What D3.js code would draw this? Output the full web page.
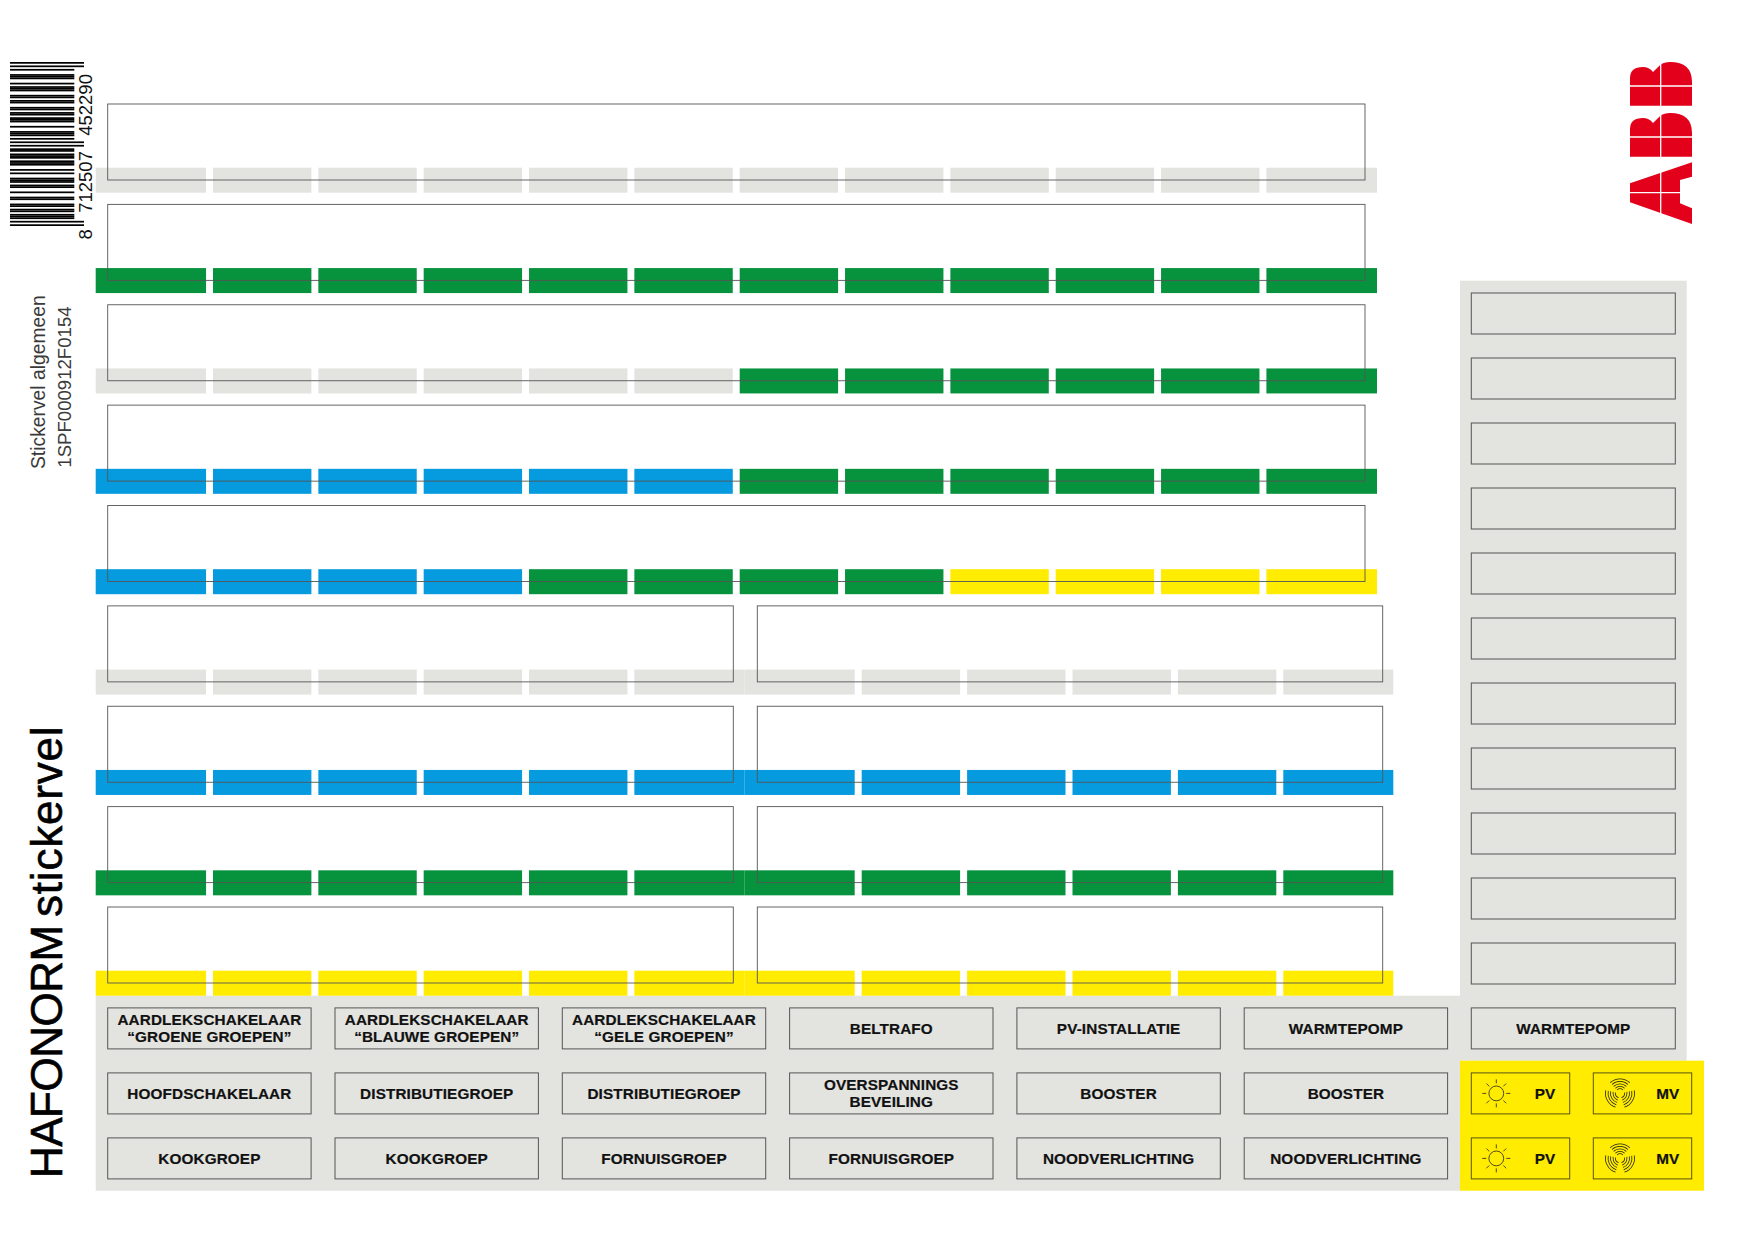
<!DOCTYPE html>
<html>
<head>
<meta charset="utf-8">
<title>HAFONORM stickervel</title>
<script src="https://cdn.jsdelivr.net/npm/d3@7"></script>
<style>
  html, body { margin: 0; padding: 0; background: #fff; }
  svg { display: block; }
  text { font-family: "Liberation Sans", Arial, sans-serif; }
</style>
</head>
<body>
<svg></svg>
<script>
// strip rows, top to bottom, as [colour name, number of cells]
let wideRows = [
  [['grey', 12]],
  [['green', 12]],
  [['grey', 6], ['green', 6]],
  [['blue', 6], ['green', 6]],
  [['blue', 4], ['green', 4], ['yellow', 4]]
];
let splitRows = ['grey', 'blue', 'green', 'yellow'];

// label boxes of the bottom block, row by row
let labelRows = [
  ['AARDLEKSCHAKELAAR\n“GROENE GROEPEN”', 'AARDLEKSCHAKELAAR\n“BLAUWE GROEPEN”', 'AARDLEKSCHAKELAAR\n“GELE GROEPEN”', 'BELTRAFO', 'PV-INSTALLATIE', 'WARMTEPOMP', 'WARMTEPOMP'],
  ['HOOFDSCHAKELAAR', 'DISTRIBUTIEGROEP', 'DISTRIBUTIEGROEP', 'OVERSPANNINGS\nBEVEILING', 'BOOSTER', 'BOOSTER'],
  ['KOOKGROEP', 'KOOKGROEP', 'FORNUISGROEP', 'FORNUISGROEP', 'NOODVERLICHTING', 'NOODVERLICHTING']
];
let sideBoxes = d3.range(11);
let yellowLabels = [['PV', 'MV'], ['PV', 'MV']];

let barcodeDigits = '8712507452290';
let eanLeft = ['0001101', '0011001', '0010011', '0111101', '0100011', '0110001', '0101111', '0111011', '0110111', '0001011'];
let eanParity8 = 'LGLGGL';

let colours = {
  grey: '#e3e4e0',
  green: '#07933e',
  blue: '#069adf',
  yellow: '#ffec00',
  red: '#e2001a',
  line: '#555'
};

let config = { svg: { width: 1754, height: 1240 } };

let svg = d3.select('svg')
  .attr('width', config.svg.width)
  .attr('height', config.svg.height)
  .attr('viewBox', `0 0 ${config.svg.width} ${config.svg.height}`);

// scales
let rowY = d3.scaleLinear().domain([0, 8]).range([167.7, 970.7]);
let cellX = d3.scaleLinear().domain([1, 11]).range([213, 1266.4]);
let splitCellX = d3.scaleLinear().domain([6, 11]).range([756.3, 1283.3]);
let labelX = d3.scaleLinear().domain([0, 5]).range([107.7, 1244.2]);
let labelY = d3.scaleLinear().domain([0, 2]).range([1007.9, 1137.9]);
let sideY = d3.scaleLinear().domain([0, 10]).range([293, 943]);
let barY = d3.scaleLinear().domain([0, 95]).range([226, 62]);

let stripH = 25;
let cellW = 98.4;
let boxH = 41;
let labelW = 203.4;

// grey and yellow panels go below the strips
let panels = svg.append('g').attr('id', 'panels');
panels.append('rect').attr('x', 95.7).attr('y', 995.7).attr('width', 1364.3).attr('height', 195).attr('fill', colours.grey);
panels.append('rect').attr('x', 1460).attr('y', 280.7).attr('width', 226.7).attr('height', 780).attr('fill', colours.grey);
panels.append('rect').attr('x', 1460).attr('y', 1060.7).attr('width', 244).attr('height', 130).attr('fill', colours.yellow);

// flatten rows into single cells
let cells = [];
wideRows.forEach((row, r) => {
  let i = 0;
  row.forEach(([colour, count]) => {
    d3.range(count).forEach(() => {
      let x0 = i === 0 ? 95.7 : cellX(i);
      let x1 = i === 11 ? 1377 : cellX(i) + cellW;
      cells.push({ r, colour, x0, x1 });
      i++;
    });
  });
});
splitRows.forEach((colour, k) => {
  let r = k + wideRows.length;
  d3.range(12).forEach(i => {
    let x0, x1;
    if (i < 6) {
      x0 = i === 0 ? 95.7 : cellX(i);
      x1 = i === 5 ? 744.3 : cellX(i) + cellW;
    } else {
      x0 = i === 6 ? 744.3 : splitCellX(i);
      x1 = i === 11 ? 1393.3 : splitCellX(i) + cellW;
    }
    cells.push({ r, colour, x0, x1 });
  });
});

svg.append('g').attr('id', 'strips')
  .selectAll('rect')
  .data(cells)
  .join('rect')
  .attr('x', d => d.x0)
  .attr('y', d => rowY(d.r))
  .attr('width', d => d.x1 - d.x0)
  .attr('height', stripH)
  .attr('fill', d => colours[d.colour]);

// outlines over the strips
let outlines = [];
wideRows.forEach((row, r) => outlines.push({ r, x0: 107.7, x1: 1365 }));
splitRows.forEach((c, k) => {
  outlines.push({ r: k + wideRows.length, x0: 107.7, x1: 733.3 });
  outlines.push({ r: k + wideRows.length, x0: 757.3, x1: 1382.7 });
});

svg.append('g').attr('id', 'outlines')
  .selectAll('rect')
  .data(outlines)
  .join('rect')
  .attr('x', d => d.x0)
  .attr('y', d => rowY(d.r) - 63.7)
  .attr('width', d => d.x1 - d.x0)
  .attr('height', 76)
  .attr('fill', 'none')
  .attr('stroke', colours.line)
  .attr('stroke-width', 0.9);

// empty boxes in the right column
svg.append('g').attr('id', 'side-boxes')
  .selectAll('rect')
  .data(sideBoxes)
  .join('rect')
  .attr('x', 1471.3)
  .attr('y', d => sideY(d))
  .attr('width', 204)
  .attr('height', boxH)
  .attr('fill', 'none')
  .attr('stroke', colours.line)
  .attr('stroke-width', 1);

// labelled boxes
let labelData = [];
labelRows.forEach((row, r) => row.forEach((text, c) => {
  labelData.push({ r, c, text, x: c === 6 ? 1471.3 : labelX(c), w: c === 6 ? 204 : labelW });
}));

let labels = svg.append('g').attr('id', 'labels')
  .selectAll('g')
  .data(labelData)
  .join('g')
  .attr('transform', d => `translate(${d.x},${labelY(d.r)})`);

labels.append('rect')
  .attr('width', d => d.w)
  .attr('height', boxH)
  .attr('fill', 'none')
  .attr('stroke', colours.line)
  .attr('stroke-width', 1);

labels.each(function (d) {
  let lines = d.text.split('\n');
  let top = boxH / 2 + 5.5 - (lines.length - 1) * 8.5;
  d3.select(this).selectAll('text')
    .data(lines)
    .join('text')
    .attr('x', d.w / 2)
    .attr('y', (t, i) => top + i * 17)
    .attr('text-anchor', 'middle')
    .attr('font-size', 15.3)
    .attr('font-weight', 700)
    .attr('letter-spacing', 0.12)
    .attr('fill', '#111')
    .attr('stroke', '#111')
    .attr('stroke-width', 0.2)
    .text(t => t);
});

// yellow boxes with icon
let yellowX = d3.scaleLinear().domain([0, 1]).range([1471.3, 1593.3]);
let yellowData = [];
yellowLabels.forEach((row, r) => row.forEach((text, c) => yellowData.push({ r, c, text })));

let yellow = svg.append('g').attr('id', 'yellow-boxes')
  .selectAll('g')
  .data(yellowData)
  .join('g')
  .attr('transform', d => `translate(${yellowX(d.c)},${labelY(d.r + 1)})`);

yellow.append('rect')
  .attr('width', 98.4)
  .attr('height', boxH)
  .attr('fill', 'none')
  .attr('stroke', '#5a5410')
  .attr('stroke-width', 1);

yellow.append('text')
  .attr('x', d => d.c === 0 ? 73.7 : 74.5)
  .attr('y', boxH / 2 + 5.5)
  .attr('text-anchor', 'middle')
  .attr('font-size', 15.3)
  .attr('font-weight', 700)
  .attr('letter-spacing', 0.1)
  .attr('fill', '#111')
  .attr('stroke', '#111')
  .attr('stroke-width', 0.2)
  .text(d => d.text);

// sun
let sun = yellow.filter(d => d.c === 0).append('g').attr('transform', `translate(25,${boxH / 2})`);
sun.append('circle').attr('r', 7.4).attr('fill', 'none').attr('stroke', '#222').attr('stroke-width', 0.8);
sun.selectAll('line')
  .data(d3.range(8))
  .join('line')
  .attr('x1', d => 10 * Math.cos(d * Math.PI / 4))
  .attr('y1', d => 10 * Math.sin(d * Math.PI / 4))
  .attr('x2', d => 14 * Math.cos(d * Math.PI / 4))
  .attr('y2', d => 14 * Math.sin(d * Math.PI / 4))
  .attr('stroke', '#222')
  .attr('stroke-width', 0.8);

// fan, three blades of concentric arcs
let fanRadii = [4.5, 7, 9.5, 12, 14.5];
let fanBlades = [0, 120, 240];
let fan = yellow.filter(d => d.c === 1).append('g').attr('transform', `translate(26.7,${boxH / 2})`);
let arc = d3.arc();
fanBlades.forEach(angle => {
  fan.selectAll(null)
    .data(fanRadii)
    .join('path')
    .attr('d', r => arc({
      innerRadius: r - 0.4,
      outerRadius: r + 0.4,
      startAngle: (angle - 42) * Math.PI / 180,
      endAngle: (angle + 42) * Math.PI / 180
    }))
    .attr('fill', '#222');
});

// barcode, EAN-13 drawn bottom to top
let modules = '101';
barcodeDigits.slice(1, 7).split('').forEach((digit, i) => {
  let left = eanLeft[+digit];
  if (eanParity8[i] === 'G') {
    left = left.split('').map(b => b === '1' ? '0' : '1').reverse().join('');
  }
  modules += left;
});
modules += '01010';
barcodeDigits.slice(7).split('').forEach(digit => {
  modules += eanLeft[+digit].split('').map(b => b === '1' ? '0' : '1').join('');
});
modules += '101';

let guards = [0, 1, 2, 45, 46, 47, 48, 49, 92, 93, 94];
let moduleH = Math.abs(barY(1) - barY(0));

svg.append('g').attr('id', 'barcode')
  .selectAll('rect')
  .data(modules.split('').map((b, i) => ({ b, i })).filter(d => d.b === '1'))
  .join('rect')
  .attr('x', 10)
  .attr('y', d => barY(d.i + 1))
  .attr('width', d => guards.includes(d.i) ? 74 : 64.3)
  .attr('height', moduleH)
  .attr('fill', '#000');

// rotated text, reads bottom to top
function sideText(text, x, y, size, fill) {
  return svg.append('text')
    .attr('transform', `translate(${x},${y}) rotate(-90)`)
    .attr('font-size', size)
    .attr('fill', fill)
    .text(text);
}

sideText(barcodeDigits.slice(0, 1), 91.7, 239.5, 18.5, '#111');
sideText(barcodeDigits.slice(1, 7), 91.7, 212.8, 18.5, '#111');
sideText(barcodeDigits.slice(7), 91.7, 135.8, 18.5, '#111');
sideText('Stickervel algemeen', 44.7, 469, 19.3, '#3a3a3a');
sideText('1SPF000912F0154', 71, 467.7, 18.6, '#3a3a3a');
sideText('HAFONORM', 62.3, 1178, 44, '#000')
  .attr('letter-spacing', -0.5).attr('stroke', '#000').attr('stroke-width', 0.6);
sideText('stickervel', 62.3, 917, 44, '#000')
  .attr('letter-spacing', 0.8).attr('stroke', '#000').attr('stroke-width', 0.6);

// ABB logo, rotated with the sheet
let logo = svg.append('g').attr('id', 'logo').attr('transform', 'translate(1630,62)');
logo.append('title').text('ABB');
let bPath = 'M0,43.7 V16 Q0,5 13,5 Q19,5 23,10 L30.7,2.5 Q34,0 40,0 Q62,0 62,20 V43.7 Z';
logo.selectAll('path.b')
  .data([0, 51])
  .join('path')
  .attr('class', 'b')
  .attr('d', bPath)
  .attr('transform', d => `translate(0,${d})`)
  .attr('fill', colours.red);
logo.append('path')
  .attr('d', 'M62,100.3 V114.7 L50,118 V141.3 L62,146.3 V162 L0,140.3 V121.3 Z')
  .attr('fill', colours.red);
let cuts = [[30.7, 0, 30.7, 164], [0, 24, 62, 24], [0, 75, 62, 75], [0, 130.7, 50, 130.7]];
logo.selectAll('line')
  .data(cuts)
  .join('line')
  .attr('x1', d => d[0])
  .attr('y1', d => d[1])
  .attr('x2', d => d[2])
  .attr('y2', d => d[3])
  .attr('stroke', '#fff')
  .attr('stroke-width', 1.3);
</script>
</body>
</html>
